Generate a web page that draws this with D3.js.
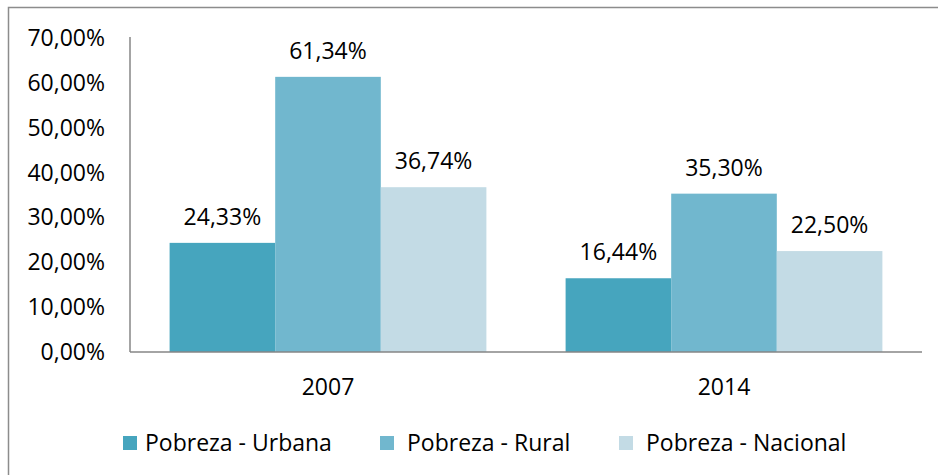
<!DOCTYPE html>
<html>
<head>
<meta charset="utf-8">
<script src="https://cdn.jsdelivr.net/npm/d3@7"></script>
<style>
  body { margin: 0; background: #fff; }
  svg { display: block; font-family: "Open Sans", sans-serif; }
</style>
</head>
<body>
<svg id="canvas" width="938" height="475"></svg>
<script>
const years = ['2007', '2014'];
const seriesNames = ['Pobreza - Urbana', 'Pobreza - Rural', 'Pobreza - Nacional'];
const urbana = [24.33, 16.44];
const rural = [61.34, 35.30];
const nacional = [36.74, 22.50];
const yTicks = [0, 10, 20, 30, 40, 50, 60, 70];
const colors = ['#46a5be', '#71b7ce', '#c3dbe5'];

const values = [urbana, rural, nacional];
const fmt = v => v.toFixed(2).replace('.', ',') + '%';

const svg = d3.select('#canvas');

// outer frame of the chart (runs off the right / bottom edge)
svg.append('rect')
  .attr('x', 8.5).attr('y', 7.5)
  .attr('width', 1000).attr('height', 1000)
  .attr('fill', 'none')
  .attr('stroke', '#8c8c8c')
  .attr('stroke-width', 1.5);

const plotLeft = 130, plotRight = 922, plotTop = 38, plotBottom = 352;

const x0 = d3.scaleBand()
  .domain(years)
  .range([plotLeft, plotRight])
  .paddingInner(0.2)
  .paddingOuter(0.1);

const x1 = d3.scaleBand()
  .domain(seriesNames)
  .range([0, x0.bandwidth()]);

const y = d3.scaleLinear()
  .domain([0, 70])
  .range([plotBottom, plotTop]);

// y labels
svg.append('g').selectAll('text')
  .data(yTicks)
  .join('text')
  .attr('x', 105)
  .attr('y', d => y(d))
  .attr('dy', '0.35em')
  .attr('text-anchor', 'end')
  .attr('font-size', 23)
  .attr('fill', '#000')
  .text(d => fmt(d));

// bars
const groups = svg.append('g').selectAll('g')
  .data(years)
  .join('g')
  .attr('transform', d => 'translate(' + x0(d) + ',0)');

groups.selectAll('rect')
  .data((d, i) => seriesNames.map((s, j) => ({ s: s, v: values[j][i], c: colors[j] })))
  .join('rect')
  .attr('x', d => x1(d.s))
  .attr('y', d => y(d.v))
  .attr('width', x1.bandwidth())
  .attr('height', d => y(0) - y(d.v))
  .attr('fill', d => d.c);

groups.selectAll('text')
  .data((d, i) => seriesNames.map((s, j) => ({ s: s, v: values[j][i] })))
  .join('text')
  .attr('x', d => x1(d.s) + x1.bandwidth() / 2)
  .attr('y', d => y(d.v) - 18)
  .attr('text-anchor', 'middle')
  .attr('font-size', 23)
  .attr('fill', '#000')
  .text(d => fmt(d.v));

// axes lines
svg.append('line')
  .attr('x1', plotLeft).attr('x2', plotLeft)
  .attr('y1', plotTop - 1).attr('y2', plotBottom)
  .attr('stroke', '#868686').attr('stroke-width', 1.5);
svg.append('line')
  .attr('x1', plotLeft).attr('x2', plotRight)
  .attr('y1', plotBottom).attr('y2', plotBottom)
  .attr('stroke', '#868686').attr('stroke-width', 1.5);

// x labels
svg.append('g').selectAll('text')
  .data(years)
  .join('text')
  .attr('x', d => x0(d) + x0.bandwidth() / 2)
  .attr('y', 395)
  .attr('text-anchor', 'middle')
  .attr('font-size', 23)
  .attr('fill', '#000')
  .text(d => d);

// legend
const legendX = [123, 380, 619];
const legend = svg.append('g').selectAll('g')
  .data(seriesNames)
  .join('g')
  .attr('transform', (d, i) => 'translate(' + legendX[i] + ',436)');
legend.append('rect')
  .attr('width', 14).attr('height', 14)
  .attr('fill', (d, i) => colors[i]);
legend.append('text')
  .attr('x', (d, i) => [22, 27, 27][i])
  .attr('y', 15)
  .attr('font-size', 23)
  .attr('fill', '#000')
  .text(d => d);
</script>
</body>
</html>
